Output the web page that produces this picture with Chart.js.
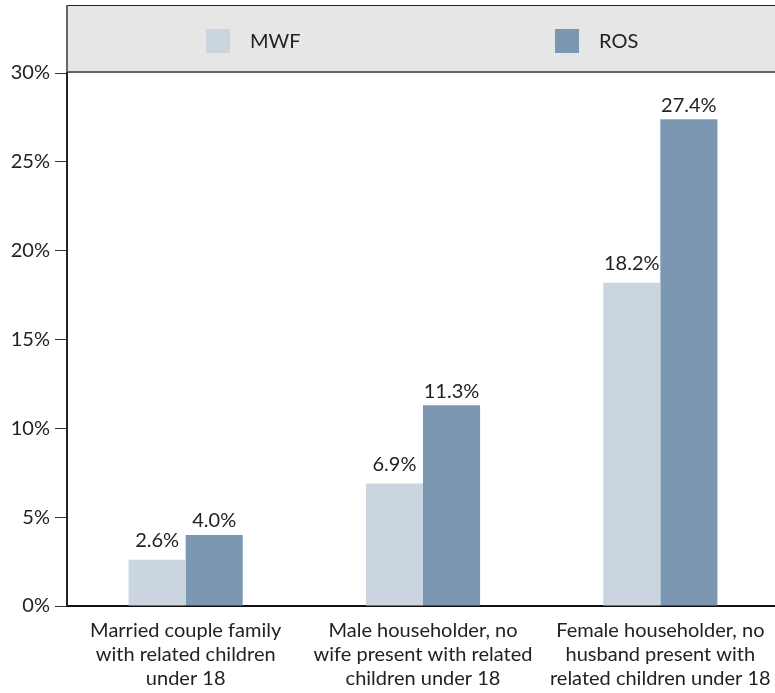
<!DOCTYPE html>
<html>
<head>
<meta charset="utf-8">
<script src="https://cdn.jsdelivr.net/npm/chart.js@4.4.0/dist/chart.umd.min.js"></script>
<style>
html,body{margin:0;padding:0;background:#fff;overflow:hidden;}
#wrap{width:775px;height:693px;position:relative;overflow:hidden;}
#c{display:block;}
</style>
</head>
<body>
<div id="wrap"><canvas id="c" width="779" height="693"></canvas></div>
<script>
const categories = [
  ["Married couple family", "with related children", "under 18"],
  ["Male householder, no", "wife present with related", "children under 18"],
  ["Female householder, no", "husband present with", "related children under 18"]
];
const seriesNames = ["MWF", "ROS"];
const mwfValues = [2.6, 6.9, 18.2];
const rosValues = [4.0, 11.3, 27.4];
const yTicks = [0, 5, 10, 15, 20, 25, 30];

const FONT = "Lato, 'Open Sans', sans-serif";
const FS = 20;
const colors = ["#cbd5df", "#7b97b2"];
const labelOffsets = [19, 14];

const legendBox = {
  id: 'legendBox',
  beforeDraw(chart) {
    const ctx = chart.ctx;
    const ca = chart.chartArea;
    ctx.save();
    ctx.fillStyle = '#e6e6e6';
    ctx.fillRect(67, 5, chart.width - 67, ca.top - 5);
    ctx.strokeStyle = '#222';
    ctx.lineWidth = 1;
    ctx.beginPath(); ctx.moveTo(67, 5.5); ctx.lineTo(chart.width, 5.5); ctx.stroke();
    ctx.strokeStyle = '#666';
    ctx.lineWidth = 2;
    ctx.beginPath(); ctx.moveTo(67, 5); ctx.lineTo(67, ca.top); ctx.stroke();
    ctx.beginPath(); ctx.moveTo(67, ca.top - 1); ctx.lineTo(chart.width, ca.top - 1); ctx.stroke();
    const items = [{x: 206}, {x: 555}];
    chart.data.datasets.forEach((ds, i) => {
      const x = items[i].x;
      ctx.fillStyle = ds.backgroundColor;
      ctx.fillRect(x, 29, 24, 24);
      ctx.fillStyle = '#222';
      ctx.font = FS + 'px ' + FONT;
      ctx.textBaseline = 'middle';
      ctx.textAlign = 'left';
      ctx.fillText(ds.label, x + 44, 42);
    });
    ctx.restore();
  }
};

const valueLabels = {
  id: 'valueLabels',
  afterDatasetsDraw(chart) {
    const ctx = chart.ctx;
    ctx.save();
    ctx.fillStyle = '#222';
    ctx.font = FS + 'px ' + FONT;
    ctx.textAlign = 'center';
    ctx.textBaseline = 'middle';
    chart.data.datasets.forEach((ds, i) => {
      chart.getDatasetMeta(i).data.forEach((bar, j) => {
        ctx.fillText(ds.data[j].toFixed(1) + '%', bar.x, bar.y - labelOffsets[i]);
      });
    });
    ctx.restore();
  }
};

new Chart(document.getElementById('c'), {
  type: 'bar',
  data: {
    labels: categories,
    datasets: [
      {label: seriesNames[0], data: mwfValues, backgroundColor: colors[0], categoryPercentage: 0.481, barPercentage: 1.0},
      {label: seriesNames[1], data: rosValues, backgroundColor: colors[1], categoryPercentage: 0.481, barPercentage: 1.0}
    ]
  },
  options: {
    responsive: false,
    animation: false,
    devicePixelRatio: 1,
    layout: {padding: {top: 73, right: 0, bottom: 0, left: 0}},
    plugins: {legend: {display: false}, tooltip: {enabled: false}},
    scales: {
      x: {
        z: 1,
        grid: {display: false},
        border: {display: true, color: '#111', width: 2},
        ticks: {color: '#222', font: {family: FONT, size: FS, lineHeight: 1.2}, padding: 5, maxRotation: 0, autoSkip: false},
        afterFit(s) { s.height = 87; }
      },
      y: {
        min: 0, max: 30,
        afterBuildTicks(s) { s.ticks = yTicks.map(v => ({value: v})); },
        grid: {display: true, drawOnChartArea: false, drawTicks: true, tickLength: 12, tickColor: '#333', tickWidth: 1},
        border: {display: true, color: '#222', width: 2},
        ticks: {color: '#222', font: {family: FONT, size: FS}, padding: 5, callback: v => v + '%'},
        afterFit(s) { s.width = 67; }
      }
    }
  },
  plugins: [legendBox, valueLabels]
});
</script>
</body>
</html>
